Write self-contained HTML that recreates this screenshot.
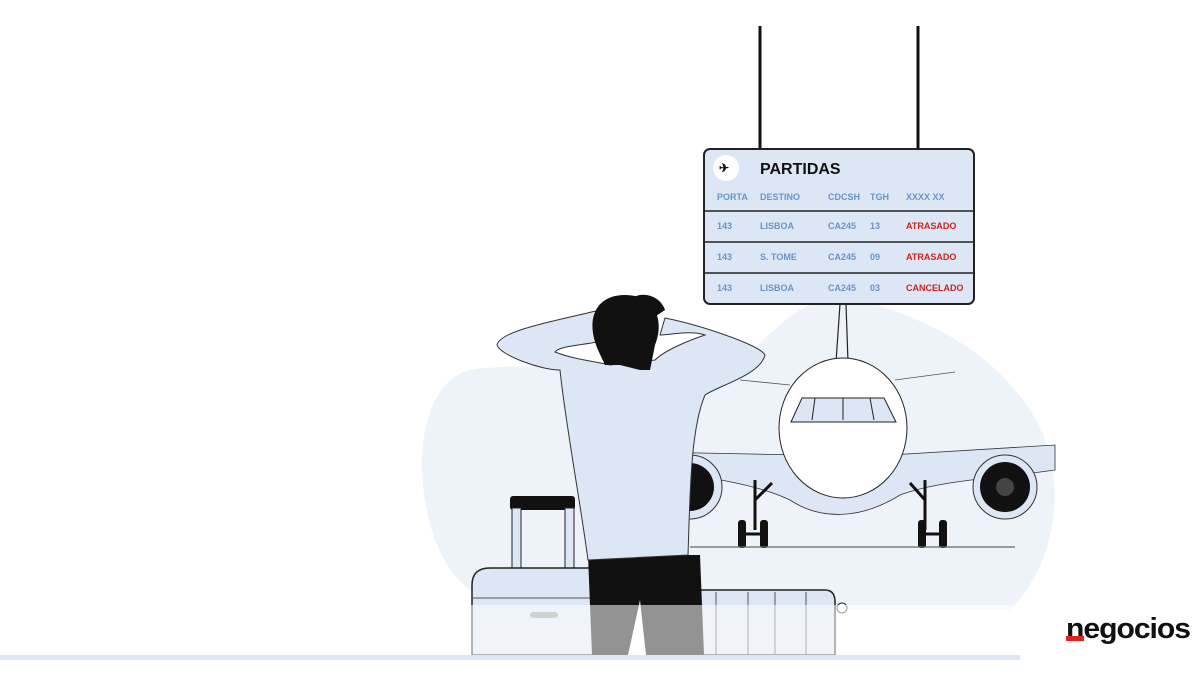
<!DOCTYPE html>
<html><head><meta charset="utf-8"><style>
html,body{margin:0;padding:0;background:#fff;}
svg{display:block}
text{font-family:"Liberation Sans",sans-serif;font-weight:bold}
</style></head><body>
<svg width="1200" height="676" viewBox="0 0 1200 676" xmlns="http://www.w3.org/2000/svg">
<rect width="1200" height="676" fill="#fff"/>
<path d="M470 370 C430 380 415 440 425 500 C435 560 460 600 520 610 L1010 610 C1060 560 1070 470 1030 410 C990 350 930 320 860 300 C800 290 780 330 740 360 C700 390 620 360 560 365 C530 368 500 365 470 370 Z" fill="#eef2f9"/>
<line x1="840" y1="304" x2="836" y2="362" stroke="#222" stroke-width="1.2"/>
<line x1="846" y1="304" x2="848" y2="362" stroke="#222" stroke-width="1.2"/>
<line x1="760" y1="26" x2="760" y2="150" stroke="#111" stroke-width="3"/>
<line x1="918" y1="26" x2="918" y2="150" stroke="#111" stroke-width="3"/>
<path d="M650 452 L800 455 L890 455 L1055 445 L1055 470 C1000 478 940 480 900 495 C860 520 820 520 790 500 C760 485 700 475 650 470 Z" fill="#dde6f4" stroke="#333" stroke-width="0.8"/>
<path d="M740 380 L790 385 M895 380 L955 372" stroke="#555" stroke-width="0.8" fill="none"/>
<circle cx="690" cy="487" r="32" fill="#dde6f4" stroke="#333"/>
<circle cx="690" cy="487" r="24" fill="#111"/>
<circle cx="1005" cy="487" r="32" fill="#dde6f4" stroke="#333"/>
<circle cx="1005" cy="487" r="25" fill="#111"/>
<circle cx="1005" cy="487" r="9" fill="#444"/>
<ellipse cx="843" cy="428" rx="64" ry="70" fill="#fff" stroke="#222" stroke-width="1"/>
<path d="M791 422 L802 398 L884 398 L896 422 Z" fill="#dde6f4" stroke="#222"/>
<path d="M815 398 L812 420 M843 398 L843 420 M870 398 L874 420" stroke="#222"/>
<path d="M755 480 L755 530 M755 500 L772 483 M925 480 L925 530 M925 500 L910 483" stroke="#111" stroke-width="3" fill="none"/>
<rect x="738" y="520" width="8" height="28" rx="3" fill="#111"/><rect x="760" y="520" width="8" height="28" rx="3" fill="#111"/>
<rect x="918" y="520" width="8" height="28" rx="3" fill="#111"/><rect x="939" y="520" width="8" height="28" rx="3" fill="#111"/>
<line x1="738" y1="534" x2="768" y2="534" stroke="#111" stroke-width="3"/><line x1="918" y1="534" x2="947" y2="534" stroke="#111" stroke-width="3"/>
<line x1="690" y1="547" x2="1015" y2="547" stroke="#666" stroke-width="1.2"/>
<rect x="704" y="149" width="270" height="155" rx="6" fill="#dde6f4" stroke="#222" stroke-width="2"/>
<circle cx="726" cy="168" r="13" fill="#fff"/>
<text x="719" y="172" font-size="12" fill="#111">✈</text>
<text x="760" y="174" font-size="16" fill="#111">PARTIDAS</text>
<g font-size="9" fill="#6b94c5">
<text x="717" y="200">PORTA</text><text x="760" y="200">DESTINO</text><text x="828" y="200">CDCSH</text><text x="870" y="200">TGH</text><text x="906" y="200">XXXX XX</text>
<text x="717" y="229">143</text><text x="760" y="229">LISBOA</text><text x="828" y="229">CA245</text><text x="870" y="229">13</text>
<text x="717" y="260">143</text><text x="760" y="260">S. TOME</text><text x="828" y="260">CA245</text><text x="870" y="260">09</text>
<text x="717" y="291">143</text><text x="760" y="291">LISBOA</text><text x="828" y="291">CA245</text><text x="870" y="291">03</text>
</g>
<g font-size="9" fill="#cc2222">
<text x="906" y="229">ATRASADO</text><text x="906" y="260">ATRASADO</text><text x="906" y="291">CANCELADO</text>
</g>
<path d="M705 211 H973 M705 242 H973 M705 273 H973" stroke="#222" stroke-width="1.5"/>
<rect x="510" y="496" width="65" height="14" rx="3" fill="#111"/>
<rect x="512" y="508" width="9" height="62" fill="#dde6f4" stroke="#222"/>
<rect x="565" y="508" width="9" height="62" fill="#dde6f4" stroke="#222"/>
<path d="M472 655 L472 585 Q472 568 490 568 L600 568 L600 655 Z" fill="#dde6f4" stroke="#222" stroke-width="1.5"/>
<line x1="472" y1="598" x2="600" y2="598" stroke="#555"/>
<rect x="530" y="612" width="28" height="6" rx="3" fill="#999"/>
<path d="M697 655 L697 590 L825 590 Q835 590 835 602 L835 655 Z" fill="#dde6f4" stroke="#222" stroke-width="1.5"/>
<path d="M716 592 V655 M748 592 V655 M775 592 V655 M806 592 V655" stroke="#555"/>
<circle cx="842" cy="608" r="5" fill="#fff" stroke="#222"/>
<path d="M588 555 L700 555 L704 655 L646 655 L640 600 L628 655 L592 655 Z" fill="#111"/>
<path d="M560 370 C540 370 500 355 497 345 C500 330 560 320 600 310 L605 340 C590 345 560 345 555 352 C575 360 600 362 610 365 L655 360 C665 350 690 340 705 335 C690 330 670 335 660 335 L665 318 C700 325 760 345 765 355 C760 375 720 385 705 395 C690 430 690 500 688 555 L588 560 C580 500 565 420 560 370 Z" fill="#dde6f4" stroke="#333" stroke-width="1"/>
<path d="M598 350 C585 320 595 295 625 295 C655 295 665 320 655 345 L650 370 L640 370 L620 365 L605 365 Z" fill="#111"/>
<path d="M630 300 C640 290 660 295 665 310 L650 320 Z" fill="#111"/>
<rect x="0" y="605" width="1030" height="52" fill="#fff" opacity="0.55"/>
<rect x="0" y="655" width="1020" height="5" fill="#dde6f4"/>
<text x="1066" y="638" font-size="29" fill="#111" letter-spacing="-1" textLength="124" lengthAdjust="spacingAndGlyphs">negocios</text>
<rect x="1066" y="636" width="18" height="5" fill="#e52222"/>
</svg>
</body></html>
